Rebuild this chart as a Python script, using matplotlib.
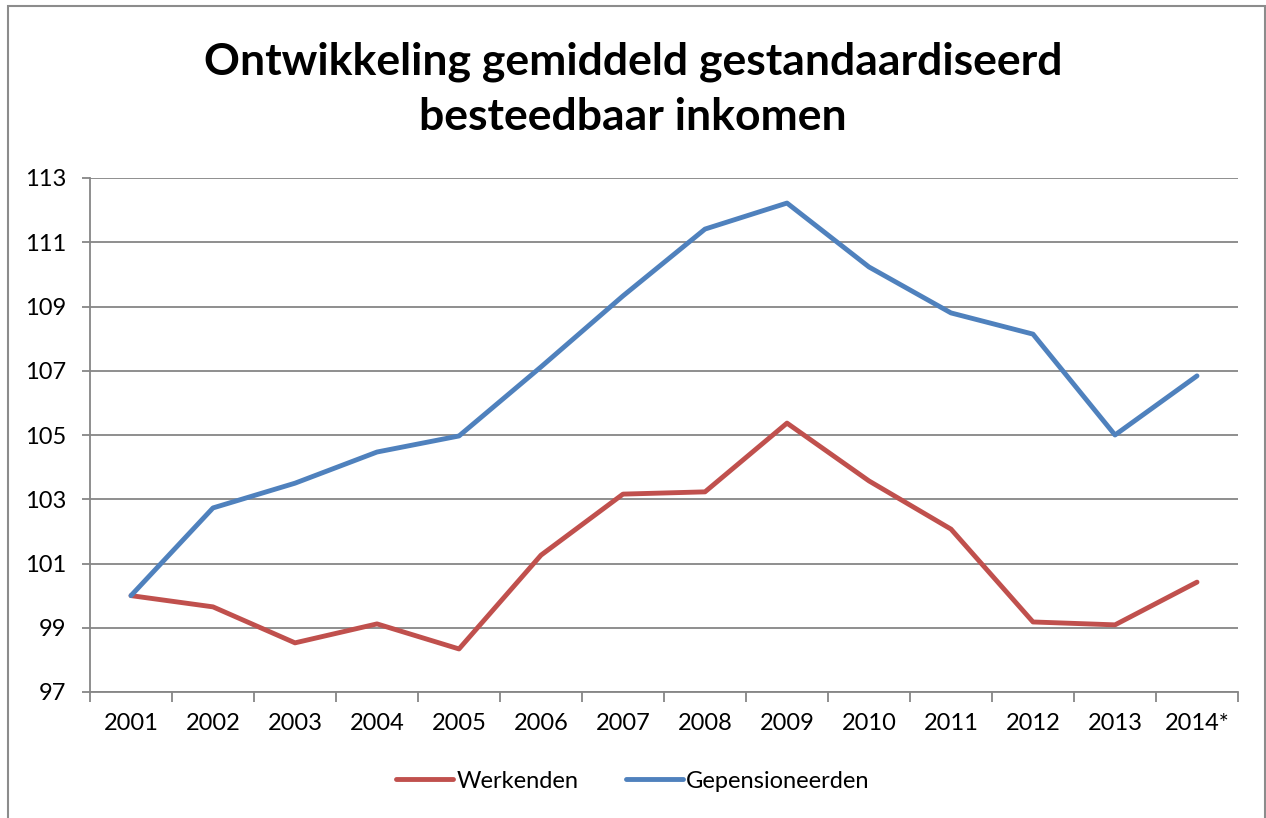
import matplotlib
matplotlib.use("Agg")
import matplotlib.pyplot as plt
from matplotlib.patches import Rectangle
from matplotlib.lines import Line2D

plt.rcParams['font.family'] = ['Lato', 'DejaVu Sans']

years = ["2001", "2002", "2003", "2004", "2005", "2006", "2007",
         "2008", "2009", "2010", "2011", "2012", "2013", "2014*"]
werkenden = [100.0, 99.65, 98.53, 99.12, 98.34, 101.26, 103.16,
             103.23, 105.37, 103.57, 102.07, 99.18, 99.09, 100.42]
gepensioneerden = [100.0, 102.73, 103.5, 104.47, 104.97, 107.12, 109.33,
                   111.41, 112.22, 110.23, 108.8, 108.14, 105.0, 106.84]
yticks = [97, 99, 101, 103, 105, 107, 109, 111, 113]
title = "Ontwikkeling gemiddeld gestandaardiseerd\nbesteedbaar inkomen"

W, H = 1266, 818
fig = plt.figure(figsize=(W / 100, H / 100), dpi=100)
fig.patch.set_facecolor("white")

# outer chart border
fig.add_artist(Rectangle((8 / W, -0.05), (1265 - 8) / W, 1.05 - 6 / H,
                         transform=fig.transFigure, fill=False,
                         edgecolor="#8c8c8c", linewidth=1.5))

ax = fig.add_axes([90 / W, 1 - 692 / H, (1238 - 90) / W, (692 - 178) / H])
x = list(range(1, len(years) + 1))
red = "#C0504D"
blue = "#4F81BD"
lw = 3.5
ax.plot(x, werkenden, color=red, linewidth=lw, solid_capstyle="round",
        solid_joinstyle="round", label="Werkenden", zorder=3)
ax.plot(x, gepensioneerden, color=blue, linewidth=lw, solid_capstyle="round",
        solid_joinstyle="round", label="Gepensioneerden", zorder=3)

ax.set_xlim(0.5, len(years) + 0.5)
ax.set_ylim(97, 113)
ax.set_yticks(yticks)
ax.set_yticklabels([str(v) for v in yticks])
gray = "#868686"
ax.yaxis.grid(True, color=gray, linewidth=1.3)
ax.set_axisbelow(True)

ax.set_xticks([i + 0.5 for i in range(0, len(years) + 1)])
ax.set_xticklabels([])
ax.set_xticks(x, minor=True)
ax.set_xticklabels(years, minor=True)
ax.tick_params(axis="x", which="major", length=7, width=1.3, color=gray)
ax.tick_params(axis="x", which="minor", length=0, pad=15, labelsize=17)
ax.tick_params(axis="y", length=6, width=1.3, color=gray, pad=11, labelsize=17)

for s in ["top", "right"]:
    ax.spines[s].set_visible(False)
for s in ["left", "bottom"]:
    ax.spines[s].set_color(gray)
    ax.spines[s].set_linewidth(1.3)

fig.text(0.5, 1 - 89 / H, title, ha="center", va="center",
         fontsize=32, fontweight="bold", linespacing=1.45)

handles = [Line2D([], [], color=red, linewidth=lw, solid_capstyle="round"),
           Line2D([], [], color=blue, linewidth=lw, solid_capstyle="round")]
fig.legend(handles, ["Werkenden", "Gepensioneerden"], loc="center",
           bbox_to_anchor=(0.5, 1 - 781 / H), ncol=2, frameon=False,
           fontsize=17, handlelength=2.4, handletextpad=0.15, columnspacing=2.0)

fig.savefig("out.png", dpi=100, facecolor="white")
